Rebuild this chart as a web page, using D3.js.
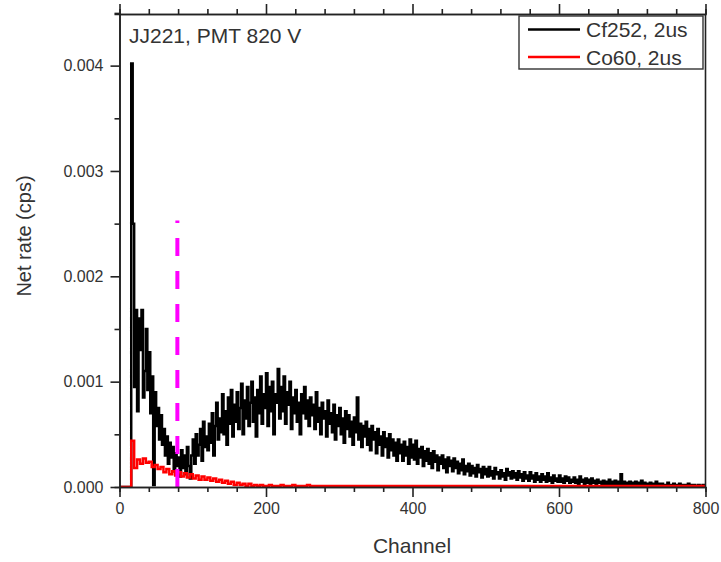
<!DOCTYPE html>
<html>
<head>
<meta charset="utf-8">
<script src="https://cdn.jsdelivr.net/npm/d3@7"></script>
<style>
    body { margin: 0; background: #fff; }
    text { font-family: "Liberation Sans", Arial, sans-serif; fill: #333; }
</style>
</head>
<body>
<div id="chart"></div>
<script>
// Cf252 spectrum, one value per 2-channel bin starting at channel 0
var cf252Step = 2;
var cf252Rate = [
    0, 0, 0, 0, 0, 0, 0, 0, 0.00402, 0.00250,
    0.00095, 0.00168, 0.00072, 0.00160, 0.00130, 0.00168, 0.00085, 0.00110, 0.00150, 0.00092,
    0.00128, 0.00070, 0.00105, 0.00002, 0.00090, 0.00058, 0.00075, 0.00045, 0.00068, 0.00040,
    0.00055, 0.00030, 0.00048, 0.00022, 0.00042, 0.00028, 0.00038, 0.00015, 0.00032, 0.00020,
    0.00028, 0.00010, 0.00035, 0.00018, 0.00030, 0.00012, 0.00038, 0.00020, 0.00008, 0.00030,
    0.00045, 0.00022, 0.00050, 0.00030, 0.00040, 0.00055, 0.00025, 0.00062, 0.00038, 0.00048,
    0.00035, 0.00060, 0.00042, 0.00070, 0.00030, 0.00058, 0.00080, 0.00045, 0.00065, 0.00052,
    0.00088, 0.00050, 0.00072, 0.00040, 0.00085, 0.00060, 0.00092, 0.00048, 0.00078, 0.00062,
    0.00090, 0.00055, 0.00075, 0.00098, 0.00050, 0.00082, 0.00065, 0.00095, 0.00058, 0.00080,
    0.00100, 0.00062, 0.00085, 0.00048, 0.00092, 0.00070, 0.00105, 0.00060, 0.00088, 0.00075,
    0.00108, 0.00058, 0.00095, 0.00072, 0.00100, 0.00050, 0.00088, 0.00080, 0.00112, 0.00065,
    0.00095, 0.00072, 0.00105, 0.00060, 0.00090, 0.00078, 0.00100, 0.00055, 0.00085, 0.00070,
    0.00092, 0.00062, 0.00080, 0.00050, 0.00088, 0.00070, 0.00095, 0.00065, 0.00082, 0.00058,
    0.00085, 0.00068, 0.00078, 0.00055, 0.00090, 0.00062, 0.00075, 0.00050, 0.00080, 0.00065,
    0.00072, 0.00048, 0.00082, 0.00060, 0.00070, 0.00052, 0.00078, 0.00045, 0.00068, 0.00058,
    0.00075, 0.00050, 0.00065, 0.00042, 0.00072, 0.00055, 0.00068, 0.00048, 0.00062, 0.00040,
    0.00066, 0.00052, 0.00085, 0.00045, 0.00060, 0.00038, 0.00058, 0.00048, 0.00062, 0.00040,
    0.00055, 0.00035, 0.00058, 0.00045, 0.00052, 0.00032, 0.00055, 0.00040, 0.00048, 0.00030,
    0.00052, 0.00038, 0.00046, 0.00028, 0.00050, 0.00035, 0.00045, 0.00030, 0.00042, 0.00025,
    0.00045, 0.00032, 0.00040, 0.00025, 0.00043, 0.00030, 0.00038, 0.00022, 0.00045, 0.00028,
    0.00040, 0.00026, 0.00044, 0.00022, 0.00036, 0.00028, 0.00038, 0.00020, 0.00034, 0.00025,
    0.00036, 0.00022, 0.00032, 0.00018, 0.00034, 0.00024, 0.00030, 0.00016, 0.00028, 0.00022,
    0.00030, 0.00018, 0.00026, 0.00014, 0.00028, 0.00020, 0.00025, 0.00015, 0.00027, 0.00018,
    0.00024, 0.00013, 0.00022, 0.00016, 0.00026, 0.00012, 0.00020, 0.00015, 0.00022, 0.00011,
    0.00020, 0.00013, 0.00018, 0.00010, 0.00021, 0.00014, 0.00017, 0.00009, 0.00019, 0.00012,
    0.00017, 0.00010, 0.00019, 0.00011, 0.00015, 0.00008, 0.00018, 0.00012, 0.00014, 0.00008,
    0.00016, 0.00010, 0.00013, 0.00007, 0.00017, 0.00011, 0.00014, 0.00008, 0.00015, 0.00009,
    0.00013, 0.00007, 0.00015, 0.00009, 0.00012, 0.00006, 0.00014, 0.00008, 0.00011, 0.00006,
    0.00014, 0.00008, 0.00011, 0.00005, 0.00013, 0.00007, 0.00010, 0.00005, 0.00012, 0.00007,
    0.00010, 0.00005, 0.00013, 0.00006, 0.00009, 0.00004, 0.00011, 0.00006, 0.00008, 0.00005,
    0.00011, 0.00005, 0.00008, 0.00004, 0.00010, 0.00006, 0.00009, 0.00004, 0.00007, 0.00005,
    0.00009, 0.00004, 0.00007, 0.00003, 0.00010, 0.00005, 0.00007, 0.00003, 0.00008, 0.00004,
    0.00007, 0.00003, 0.00008, 0.00004, 0.00006, 0.00003, 0.00007, 0.00004, 0.00005, 0.00002,
    0.00006, 0.00003, 0.00005, 0.00002, 0.00007, 0.00003, 0.00005, 0.00002, 0.00006, 0.00003,
    0.00005, 0.00002, 0.00012, 0.00003, 0.00005, 0.00002, 0.00004, 0.00002, 0.00005, 0.00003,
    0.00004, 0.00002, 0.00005, 0.00001, 0.00004, 0.00002, 0.00006, 0.00002, 0.00004, 0.00001,
    0.00003, 0.00001, 0.00004, 0.00002, 0.00003, 0.00001, 0.00005, 0.00002, 0.00003, 0.00001,
    0.00003, 0.00001, 0.00002, 0.00001, 0.00004, 0.00001, 0.00002, 0.00001, 0.00003, 0.00001,
    0.00002, 0.00001, 0.00003, 0.00001, 0.00002, 0.00001, 0.00002, 0.00001, 0.00003, 0.00001,
    0.00002, 0.00001, 0.00002, 0.00001, 0.00001, 0.00002, 0.00001, 0.00001, 0.00002, 0.00001,
    0.00001
];

// Co60 spectrum, one value per 4-channel bin starting at channel 0
var co60Step = 4;
var co60Rate = [
    0, 0, 0, 0, 0.00044, 0.00018, 0.00026, 0.00022, 0.00027, 0.00023,
    0.00024, 0.00019, 0.00021, 0.00017, 0.00019, 0.00014, 0.00017, 0.00012, 0.00015, 0.00011,
    0.00014, 0.00010, 0.00013, 0.00009, 0.00012, 0.00008, 0.00011, 0.00007, 0.00010, 0.00007,
    0.00009, 0.00006, 0.00008, 0.00005, 0.00007, 0.00004, 0.00006, 0.00003, 0.00005, 0.00002,
    0.00004, 0.00002, 0.00003, 0.00001, 0.00003, 0.00001, 0.00002, 0.00001, 0.00002, 0.00001,
    0.00001, 0.00002, 0.00001, 0.00001, 0.00001, 0.00002, 0.00001, 0.00001, 0.00001, 0.00002,
    0.00001, 0.00001, 0.00001, 0.00001, 0.00002, 0.00001, 0.00001, 0.00001, 0.00001, 0.00001,
    0.00001, 0.00001, 0.00001, 0.00001, 0.00001, 0.00001, 0.00001, 0.00001, 0.00001, 0.00001,
    0.00001, 0.00001, 0.00001, 0.00001, 0.00001, 0.00001, 0.00001, 0.00001, 0.00001, 0.00001,
    0.00001, 0.00001, 0.00001, 0.00001, 0.00001, 0.00001, 0.00001, 0.00001, 0.00001, 0.00001,
    0.00001, 0.00001, 0.00001, 0.00001, 0.00001, 0.00001, 0.00001, 0.00001, 0.00001, 0.00001,
    0.00001, 0.00001, 0.00001, 0.00001, 0.00001, 0.00001, 0.00001, 0.00001, 0.00001, 0.00001,
    0.00001, 0.00001, 0.00001, 0.00001, 0.00001, 0.00001, 0.00001, 0.00001, 0.00001, 0.00001,
    0.00001, 0.00001, 0.00001, 0.00001, 0.00001, 0.00001, 0.00001, 0.00001, 0.00001, 0.00001,
    0.00001, 0.00001, 0.00001, 0.00001, 0.00001, 0.00001, 0.00001, 0.00001, 0.00001, 0.00001,
    0.00001, 0.00001, 0.00001, 0.00001, 0.00001, 0.00001, 0.00001, 0.00001, 0.00001, 0.00001,
    0.00001, 0.00001, 0.00001, 0.00001, 0.00001, 0.00001, 0.00001, 0.00001, 0.00001, 0.00001,
    0.00001, 0.00001, 0.00001, 0.00001, 0.00001, 0.00001, 0.00001, 0.00001, 0.00001, 0.00001,
    0.00001, 0.00001, 0.00001, 0.00001, 0.00001, 0.00001, 0.00001, 0.00001, 0.00001, 0.00001,
    0.00001, 0.00001, 0.00001, 0.00001, 0.00001, 0.00001, 0.00001, 0.00001, 0.00001, 0.00001,
    0.00001
];

// Cut marker
var cutChannel = 79;
var cutTop = 0.00253;

var xTicks = [0, 200, 400, 600, 800];
var yTicks = [0, 0.001, 0.002, 0.003, 0.004];
var seriesNames = ["Cf252, 2us", "Co60, 2us"];
var seriesColors = ["#000000", "#ff0000"];

// svg container
var svgWidth = 721;
var svgHeight = 562;

var margin = { top: 14, bottom: 75, left: 119.5, right: 15.5 };
var width = svgWidth - margin.left - margin.right;
var height = svgHeight - margin.top - margin.bottom;

var svg = d3.select("#chart")
    .append("svg")
    .attr("width", svgWidth)
    .attr("height", svgHeight);

var chartGroup = svg.append("g")
    .attr("transform", `translate(${margin.left}, ${margin.top})`);

var xScale = d3.scaleLinear().domain([0, 800]).range([0, width]);
var yScale = d3.scaleLinear().domain([0, 0.00449]).range([height, 0]);

// build point lists
function toPoints(values, step) {
    return values.map((v, i) => ({ ch: i * step, rate: v }));
}

var lineGen = d3.line()
    .x(d => xScale(d.ch))
    .y(d => yScale(d.rate))
    .curve(d3.curveStepAfter);

svg.append("clipPath").attr("id", "plotclip")
    .append("rect").attr("width", width).attr("height", height);

var plotGroup = chartGroup.append("g").attr("clip-path", "url(#plotclip)");

plotGroup.append("path")
    .datum(toPoints(cf252Rate, cf252Step))
    .attr("d", lineGen)
    .attr("fill", "none")
    .attr("stroke", seriesColors[0])
    .attr("stroke-width", 2.5);

plotGroup.append("path")
    .datum(toPoints(co60Rate, co60Step))
    .attr("d", lineGen)
    .attr("fill", "none")
    .attr("stroke", seriesColors[1])
    .attr("stroke-width", 2.5);

// dashed magenta cut line, drawn upwards from zero
chartGroup.append("line")
    .attr("x1", xScale(cutChannel))
    .attr("x2", xScale(cutChannel))
    .attr("y1", yScale(0))
    .attr("y2", yScale(cutTop))
    .attr("stroke", "#ff00ff")
    .attr("stroke-width", 4)
    .attr("stroke-dasharray", "18,15");

// axes
var minorX = d3.range(0, 801, 40).filter(v => v % 200 !== 0);
var minorY = d3.range(0, 0.00451, 0.0005).filter((v, i) => i % 2 === 1);

function styleAxis(g) {
    g.select(".domain").attr("stroke", "#222").attr("stroke-width", 1.6);
    g.selectAll(".tick line").attr("stroke", "#222").attr("stroke-width", 1.6);
    g.selectAll("text").attr("font-size", "16px").attr("fill", "#333");
}

chartGroup.append("g")
    .attr("transform", `translate(0, ${height})`)
    .call(d3.axisBottom(xScale).tickValues(minorX).tickSize(5).tickFormat(""))
    .call(styleAxis);

chartGroup.append("g")
    .attr("transform", `translate(0, ${height})`)
    .call(d3.axisBottom(xScale).tickValues(xTicks).tickSize(10).tickSizeOuter(0).tickPadding(6).tickFormat(d3.format("d")))
    .call(styleAxis);

chartGroup.append("g")
    .call(d3.axisTop(xScale).tickValues(minorX).tickSize(5).tickFormat(""))
    .call(styleAxis);

chartGroup.append("g")
    .call(d3.axisTop(xScale).tickValues(xTicks).tickSize(10).tickSizeOuter(0).tickFormat(""))
    .call(styleAxis);

chartGroup.append("g")
    .call(d3.axisLeft(yScale).tickValues(minorY).tickSize(5).tickFormat(""))
    .call(styleAxis);

chartGroup.append("g")
    .call(d3.axisLeft(yScale).tickValues(yTicks).tickSize(9).tickSizeOuter(0).tickPadding(7).tickFormat(d3.format(".3f")))
    .call(styleAxis);

// right frame line
chartGroup.append("line")
    .attr("x1", width).attr("x2", width)
    .attr("y1", 0).attr("y2", height)
    .attr("stroke", "#222")
    .attr("stroke-width", 1.6);

// axis titles
svg.append("text")
    .attr("x", margin.left + width / 2 - 0.5)
    .attr("y", 553)
    .attr("text-anchor", "middle")
    .attr("font-size", "21px")
    .text("Channel");

svg.append("text")
    .attr("transform", "translate(31, 236) rotate(-90)")
    .attr("text-anchor", "middle")
    .attr("font-size", "20px")
    .text("Net rate (cps)");

// sample label
svg.append("text")
    .attr("x", 129)
    .attr("y", 43)
    .attr("font-size", "21px")
    .text("JJ221, PMT 820 V");

// legend
var legend = svg.append("g");

legend.append("rect")
    .attr("x", 519)
    .attr("y", 16)
    .attr("width", 184)
    .attr("height", 53)
    .attr("fill", "#fff")
    .attr("stroke", "#333")
    .attr("stroke-width", 1.4);

seriesNames.forEach(function (name, i) {
    var rowY = 29.5 + i * 27.5;
    legend.append("line")
        .attr("x1", 528).attr("x2", 580)
        .attr("y1", rowY).attr("y2", rowY)
        .attr("stroke", seriesColors[i])
        .attr("stroke-width", 2.5);
    legend.append("text")
        .attr("x", 586)
        .attr("y", rowY + 7.5)
        .attr("font-size", "21px")
        .attr("fill", "#222")
        .text(name);
});
</script>
</body>
</html>
